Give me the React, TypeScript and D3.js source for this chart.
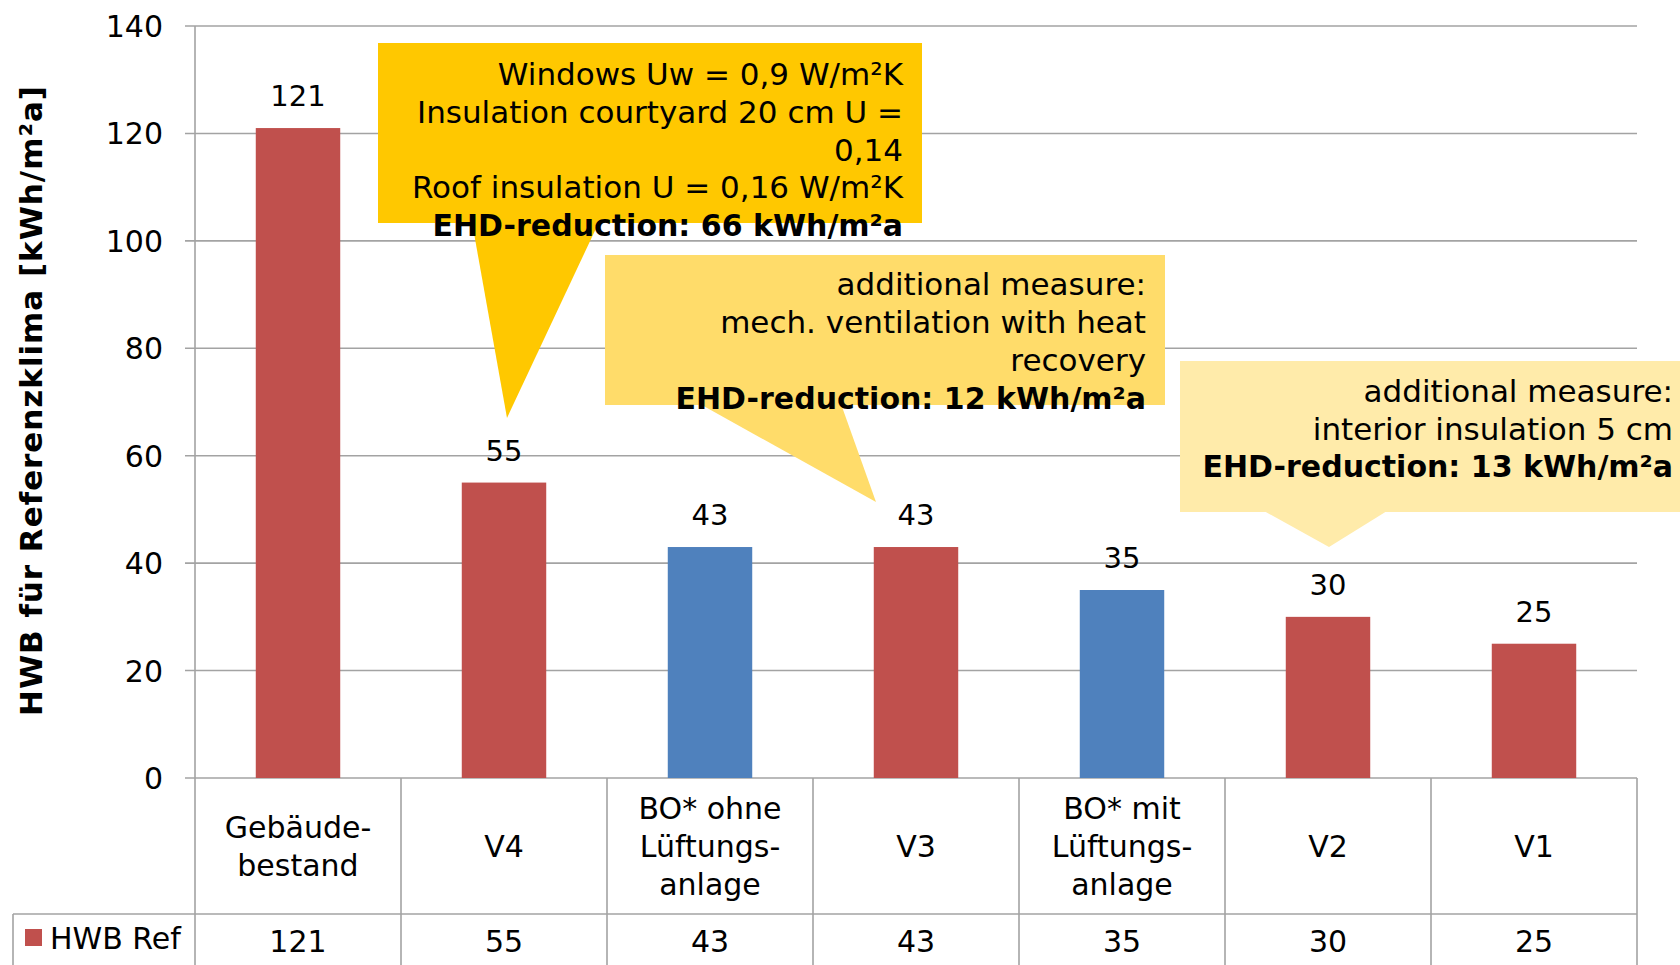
import React from 'react';
import * as d3 from 'd3';

const categories: string[] = ['Gebäude-\nbestand', 'V4', 'BO* ohne\nLüftungs-\nanlage', 'V3', 'BO* mit\nLüftungs-\nanlage', 'V2', 'V1'];
const hwbRef: number[] = [121, 55, 43, 43, 35, 30, 25];
const barKinds: string[] = ['variant', 'variant', 'reference', 'variant', 'reference', 'variant', 'variant'];
const yTicks: number[] = [0, 20, 40, 60, 80, 100, 120, 140];
const seriesName = 'HWB Ref';
const yTitle = 'HWB für Referenzklima [kWh/m²a]';

type Line = { t: string; bold?: boolean };
const callout1Lines: Line[] = [
  { t: 'Windows Uw = 0,9 W/m²K' },
  { t: 'Insulation courtyard 20 cm U =' },
  { t: '0,14' },
  { t: 'Roof insulation U = 0,16 W/m²K' },
  { t: 'EHD-reduction: 66 kWh/m²a', bold: true },
];
const callout2Lines: Line[] = [
  { t: 'additional measure:' },
  { t: 'mech. ventilation with heat' },
  { t: 'recovery' },
  { t: 'EHD-reduction: 12 kWh/m²a', bold: true },
];
const callout3Lines: Line[] = [
  { t: 'additional measure:' },
  { t: 'interior insulation 5 cm' },
  { t: 'EHD-reduction: 13 kWh/m²a', bold: true },
];

const W = 1680;
const H = 965;
const left = 195;
const right = 1637;
const top = 26;
const bottom = 778;
const tableMid = 914;
const FONT = '"DejaVu Sans", Verdana, sans-serif';
const GRID = '#A3A3A3';
const colors: Record<string, string> = { variant: '#C0504D', reference: '#4F81BD' };

const callouts = [
  { fill: '#FFC800', x0: 378, y0: 43, x1: 922, y1: 223, bl: 472, br: 599, tx: 507, ty: 418, textRight: 903, firstBase: 85, step: 37.8, lines: callout1Lines },
  { fill: '#FFDC6A', x0: 605, y0: 255, x1: 1165, y1: 405, bl: 700, br: 841, tx: 876, ty: 502, textRight: 1146, firstBase: 295, step: 38, lines: callout2Lines },
  { fill: '#FFEBAA', x0: 1180, y0: 361, x1: 1700, y1: 512, bl: 1264, br: 1387, tx: 1329, ty: 547, textRight: 1673, firstBase: 402, step: 37.5, lines: callout3Lines },
];

export default function App() {
  const x = d3.scaleBand<string>().domain(categories).range([left, right]).paddingInner(0.59).paddingOuter(0.295);
  const cols = d3.scaleBand<string>().domain(categories).range([left, right]).padding(0);
  const y = d3.scaleLinear().domain([0, 140]).range([bottom, top]);

  return (
    <svg width={W} height={H} style={{ position: 'absolute', left: 0, top: 0, background: '#fff' }} fontFamily={FONT}>
      <rect x={0} y={0} width={W} height={H} fill="#fff" />
      {/* gridlines + ticks */}
      {yTicks.map((t) => (
        <g key={t}>
          <line x1={185} x2={right} y1={y(t)} y2={y(t)} stroke={GRID} strokeWidth={1.6} />
          <text x={163} y={y(t) + 11} textAnchor="end" fontSize={30} fill="#000">{t}</text>
        </g>
      ))}
      {/* y axis line */}
      <line x1={left} x2={left} y1={top} y2={H} stroke={GRID} strokeWidth={1.6} />
      {/* y title */}
      <text
        transform={`translate(42, ${(86 + 716) / 2}) rotate(-90)`}
        textAnchor="middle"
        fontSize={31}
        fontWeight="bold"
        textLength={630}
        lengthAdjust="spacing"
        fill="#000"
      >
        {yTitle}
      </text>
      {/* bars */}
      {categories.map((c, i) => (
        <rect key={c} x={x(c)} y={y(hwbRef[i])} width={x.bandwidth()} height={y(0) - y(hwbRef[i])} fill={colors[barKinds[i]]} />
      ))}
      {/* value labels */}
      {categories.map((c, i) => (
        <text key={c} x={(x(c) as number) + x.bandwidth() / 2} y={y(hwbRef[i]) - 22} textAnchor="middle" fontSize={29} fill="#000">
          {hwbRef[i]}
        </text>
      ))}
      {/* data table */}
      <line x1={13} x2={right} y1={tableMid} y2={tableMid} stroke={GRID} strokeWidth={1.6} />
      <line x1={13} x2={13} y1={tableMid} y2={H} stroke={GRID} strokeWidth={1.6} />
      {categories.map((c) => (
        <line key={c} x1={(cols(c) as number) + cols.bandwidth()} x2={(cols(c) as number) + cols.bandwidth()} y1={bottom} y2={H} stroke={GRID} strokeWidth={1.6} />
      ))}
      {categories.map((c) => {
        const lines = c.split('\n');
        const cx = (cols(c) as number) + cols.bandwidth() / 2;
        const mid = (bottom + tableMid) / 2;
        return (
          <text key={c} textAnchor="middle" fontSize={30} fill="#000">
            {lines.map((l, j) => (
              <tspan key={j} x={cx} y={mid + 11 + (j - (lines.length - 1) / 2) * 38}>{l}</tspan>
            ))}
          </text>
        );
      })}
      <rect x={25} y={929} width={17} height={17} fill={colors.variant} />
      <text x={50} y={949} fontSize={30} fill="#000">{seriesName}</text>
      {categories.map((c, i) => (
        <text key={c} x={(cols(c) as number) + cols.bandwidth() / 2} y={952} textAnchor="middle" fontSize={30} fill="#000">
          {hwbRef[i]}
        </text>
      ))}
      {/* callouts */}
      {callouts.map((co, k) => (
        <g key={k}>
          <polygon points={`${co.bl},${co.y1 - 1} ${co.br},${co.y1 - 1} ${co.tx},${co.ty}`} fill={co.fill} />
          <rect x={co.x0} y={co.y0} width={co.x1 - co.x0} height={co.y1 - co.y0} fill={co.fill} />
          {co.lines.map((l, j) => (
            <text key={j} x={co.textRight} y={co.firstBase + j * co.step} textAnchor="end" fontSize={l.bold ? 30 : 31} fontWeight={l.bold ? 'bold' : 'normal'} fill="#000">
              {l.t}
            </text>
          ))}
        </g>
      ))}
    </svg>
  );
}
